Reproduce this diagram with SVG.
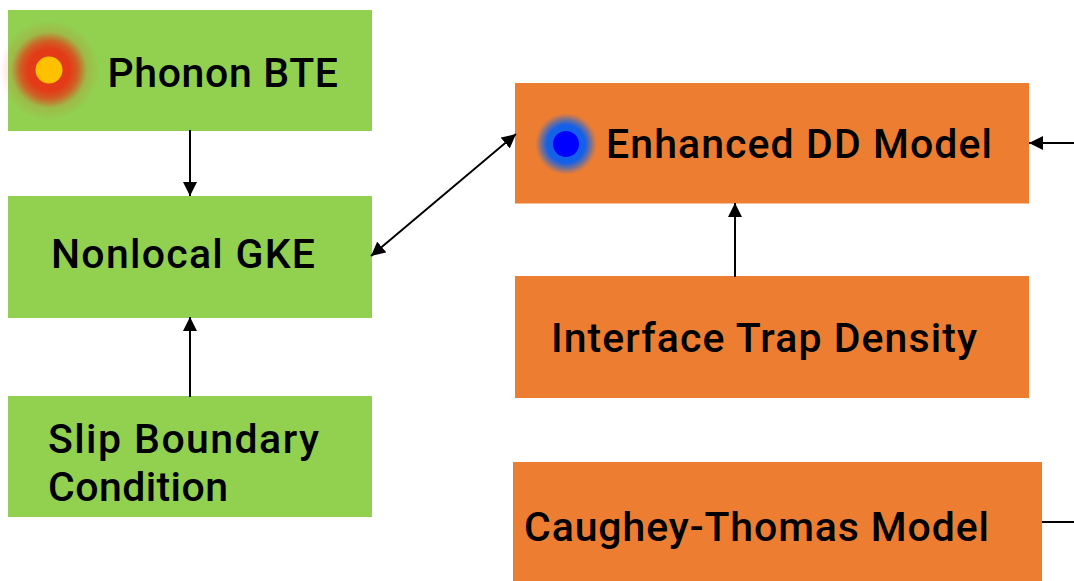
<svg xmlns="http://www.w3.org/2000/svg" width="1074" height="581" viewBox="0 0 1074 581">
<style>
.g{fill:#92d050}
.o{fill:#ed7d31}
.t{font-family:Roboto,"Liberation Sans",sans-serif;font-size:41px;font-weight:500;fill:#000}
.c{stroke:#000;stroke-width:2;fill:none}
</style>
<defs>
<marker id="a" viewBox="0 0 14 14" refX="14" refY="7" markerWidth="14" markerHeight="14" markerUnits="userSpaceOnUse" orient="auto-start-reverse"><path d="M0 0L14 7L0 14Z" fill="#000"/></marker>
<radialGradient id="red"><stop offset="0.42" stop-color="#e33b17"/><stop offset="0.58" stop-color="#e33b17" stop-opacity="0.75"/><stop offset="0.76" stop-color="#e33b17" stop-opacity="0.15"/><stop offset="1" stop-color="#e33b17" stop-opacity="0"/></radialGradient>
<radialGradient id="blue"><stop offset="0.62" stop-color="#1560e8"/><stop offset="0.8" stop-color="#2a66d0" stop-opacity="0.6"/><stop offset="1" stop-color="#5a70a8" stop-opacity="0"/></radialGradient>
</defs>
<rect width="1074" height="581" fill="#fff"/>
<g id="phonon-bte"><rect class="g" x="8" y="10" width="364" height="121"/><circle cx="49" cy="70" r="50" fill="url(#red)"/><circle cx="49" cy="70" r="13.5" fill="#ffc000"/><text class="t" x="107.500" y="86.500" textLength="230.500">Phonon BTE</text></g>
<g id="nonlocal-gke"><rect class="g" x="8" y="196" width="364" height="122"/><text class="t" x="51" y="267.500" textLength="264">Nonlocal GKE</text></g>
<g id="slip-boundary"><rect class="g" x="8" y="396" width="364" height="121"/><text class="t" x="48" y="452.500" textLength="271">Slip Boundary</text><text class="t" x="48" y="500.500" textLength="180">Condition</text></g>
<g id="enhanced-dd"><rect class="o" x="515" y="83" width="514" height="120.500"/><circle cx="566" cy="144" r="31" fill="url(#blue)"/><circle cx="566" cy="144" r="13" fill="#0000ff"/><text class="t" x="606" y="157.500" textLength="386">Enhanced DD Model</text></g>
<g id="interface-trap"><rect class="o" x="515" y="276" width="514" height="122"/><text class="t" x="551" y="351.500" textLength="426">Interface Trap Density</text></g>
<g id="caughey-thomas"><rect class="o" x="513" y="462" width="529" height="119"/><text class="t" x="524" y="540.500" textLength="465">Caughey-Thomas Model</text></g>
<g id="connectors">
<line class="c" x1="190" y1="130" x2="190" y2="196" marker-end="url(#a)"/>
<line class="c" x1="190" y1="397" x2="190" y2="317" marker-end="url(#a)"/>
<line class="c" x1="371" y1="256" x2="516" y2="134" marker-start="url(#a)" marker-end="url(#a)"/>
<line class="c" x1="735" y1="277" x2="735" y2="203" marker-end="url(#a)"/>
<line class="c" x1="1074" y1="143" x2="1029" y2="143" marker-end="url(#a)"/>
<line class="c" x1="1042" y1="522" x2="1074" y2="522"/>
</g>
</svg>
